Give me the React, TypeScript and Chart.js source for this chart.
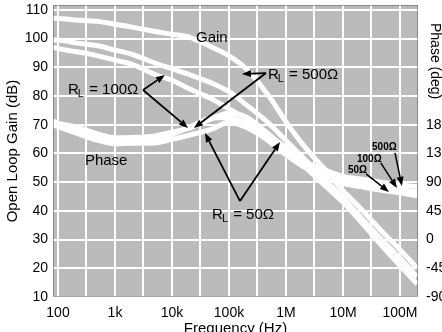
import React, { useEffect, useRef } from 'react';
import { Chart, registerables } from 'chart.js';

Chart.register(...registerables);

// ---------- data ----------
const FREQ_HZ = [80, 100, 200, 500, 1e3, 2e3, 5e3, 1e4, 2e4, 5e4, 1e5, 2e5, 5e5, 1e6, 2e6, 5e6, 1e7, 2e7, 5e7, 1e8, 2e8];

const GAIN_500 = [107, 107, 106.5, 106, 105, 104, 102.5, 101.5, 100.5, 97, 94, 89.5, 80, 71, 63, 54, 47, 41, 32.5, 26.5, 20];
const GAIN_100 = [99.5, 99.5, 98.5, 97.5, 96, 94.5, 91.5, 89.5, 87.5, 84.5, 81.5, 77, 70.5, 64.5, 58.5, 50.5, 44.5, 38, 29.5, 23.5, 17];
const GAIN_50 = [97, 96.5, 95.5, 94, 92.5, 91, 87.5, 85.5, 82.5, 79, 75.5, 72, 66, 62, 56, 48.5, 43, 36.5, 27.5, 21, 14.5];

const PHASE_500 = [186, 182.5, 177, 165.5, 159.5, 160, 162.5, 168.5, 174.5, 189.5, 198.5, 192, 165, 142.5, 123, 108.5, 99, 95, 89.5, 85.5, 83];
const PHASE_100 = [183, 180.5, 171.5, 160, 154.5, 155.5, 156.5, 165, 176, 190.5, 191.5, 181.5, 154.5, 133, 118, 100, 92.5, 88, 82.5, 78, 75];
const PHASE_50 = [180, 177, 167.5, 155.5, 150, 151, 151.5, 157, 163.5, 173, 184, 176, 154.5, 133, 114.5, 99, 88, 83, 77, 73.5, 68.5];

// axis ranges / ticks
const X_MIN = 81.7;
const X_MAX = 2.07e8;
const X_GRID = [1e2, 316.2, 1e3, 3162, 1e4, 31620, 1e5, 316200, 1e6, 3162000, 1e7, 31620000, 1e8];
const X_TICK_LABELS = ['100', '1k', '10k', '100k', '1M', '10M', '100M'];

const GAIN_MIN = 10;
const GAIN_MAX = 111.7;
const GAIN_TICKS = [10, 20, 30, 40, 50, 60, 70, 80, 90, 100, 110];

const PHASE_MIN = -90;
const PHASE_PER_DB = 4.5; // 45 deg per 10 dB grid division
const PHASE_TICKS = [-90, -45, 0, 45, 90, 135, 180];

// annotation anchors in data units (frequency Hz, gain dB)
const LBL_GAIN = { f: 50000, db: 100.2 };
const LBL_PHASE = { f: 700, db: 57.4 };
const RL100 = { text: { f: 150, db: 82.1 }, vertex: { f: 3100, db: 82.1 }, tips: [{ f: 7500, db: 87.3 }, { f: 19100, db: 68.9 }] };
const RL500 = { text: { f: 483000, db: 87.3 }, vertex: { f: 446000, db: 88 }, tips: [{ f: 169000, db: 87.7 }, { f: 24300, db: 68.9 }] };
const RL50 = { text: { f: 169000, db: 38.6 }, vertex: { f: 156000, db: 43.4 }, tips: [{ f: 37900, db: 67.1 }, { f: 785000, db: 64 }] };
const SMALL_LABELS = [
  { text: '500Ω', at: { f: 32.3e6, db: 62.3 }, from: { f: 81.7e6, db: 60.2 }, to: { f: 108e6, db: 48.7 } },
  { text: '100Ω', at: { f: 17.6e6, db: 58.1 }, from: { f: 46e6, db: 56.7 }, to: { f: 88.5e6, db: 48 } },
  { text: '50Ω', at: { f: 12.2e6, db: 54.2 }, from: { f: 25.4e6, db: 52.9 }, to: { f: 64e6, db: 46.6 } },
];

// ---------- styles ----------
const FONT = '"Liberation Sans", Arial, Helvetica, sans-serif';
const CANVAS_W = 460;
const CANVAS_H = 340;
const PLOT_BG = '#bbbbbb';

function arrow(ctx: CanvasRenderingContext2D, x1: number, y1: number, x2: number, y2: number) {
  const ang = Math.atan2(y2 - y1, x2 - x1);
  const hl = 9;
  const hw = 3.5;
  const bx = x2 - hl * Math.cos(ang);
  const by = y2 - hl * Math.sin(ang);
  ctx.beginPath();
  ctx.moveTo(x1, y1);
  ctx.lineTo(bx, by);
  ctx.stroke();
  ctx.beginPath();
  ctx.moveTo(x2, y2);
  ctx.lineTo(bx + hw * Math.sin(ang), by - hw * Math.cos(ang));
  ctx.lineTo(bx - hw * Math.sin(ang), by + hw * Math.cos(ang));
  ctx.closePath();
  ctx.fill();
}

function drawRL(ctx: CanvasRenderingContext2D, x: number, y: number, value: string, size: number) {
  ctx.textAlign = 'left';
  ctx.textBaseline = 'middle';
  ctx.font = `${size}px ${FONT}`;
  ctx.fillText('R', x, y);
  let cx = x + ctx.measureText('R').width - 1;
  ctx.font = `${Math.round(size * 0.7)}px ${FONT}`;
  ctx.fillText('L', cx, y + size * 0.25);
  cx += ctx.measureText('L').width + 1;
  ctx.font = `${size}px ${FONT}`;
  ctx.fillText(' = ' + value, cx, y);
}

const bgPlugin = {
  id: 'plotBg',
  beforeDraw(chart: any) {
    const { ctx, chartArea: a } = chart;
    ctx.save();
    ctx.fillStyle = PLOT_BG;
    ctx.fillRect(a.left, a.top, a.right - a.left, a.bottom - a.top);
    ctx.restore();
  },
};

const annotPlugin = {
  id: 'annot',
  afterDatasetsDraw(chart: any) {
    const { ctx, chartArea: a } = chart;
    const xs = chart.scales.x;
    const ys = chart.scales.y;
    const P = (p: { f: number; db: number }) => [xs.getPixelForValue(p.f), ys.getPixelForValue(p.db)];
    ctx.save();
    // plot border (dotted, like the scan)
    ctx.strokeStyle = '#555';
    ctx.lineWidth = 1;
    ctx.setLineDash([1, 1]);
    ctx.strokeRect(a.left + 0.5, a.top + 0.5, a.right - a.left - 1, a.bottom - a.top - 1);
    ctx.setLineDash([]);

    ctx.fillStyle = '#000';
    ctx.strokeStyle = '#000';
    ctx.lineWidth = 1.8;

    ctx.font = `15px ${FONT}`;
    ctx.textAlign = 'center';
    ctx.textBaseline = 'middle';
    let [gx, gy] = P(LBL_GAIN);
    ctx.fillText('Gain', gx, gy);
    [gx, gy] = P(LBL_PHASE);
    ctx.fillText('Phase', gx, gy);

    for (const [rl, val] of [[RL100, '100Ω'], [RL500, '500Ω']] as const) {
      const [tx, ty] = P(rl.text);
      drawRL(ctx, tx, ty, val, 15);
      const [vx, vy] = P(rl.vertex);
      for (const t of rl.tips) {
        const [px, py] = P(t);
        arrow(ctx, vx, vy, px, py);
      }
    }
    {
      const [tx, ty] = P(RL50.text);
      ctx.font = `15px ${FONT}`;
      const w = ctx.measureText('R = 50Ω').width + 4;
      drawRL(ctx, tx - w / 2, ty, '50Ω', 15);
      const [vx, vy] = P(RL50.vertex);
      for (const t of RL50.tips) {
        const [px, py] = P(t);
        arrow(ctx, vx, vy, px, py);
      }
    }
    ctx.lineWidth = 1.5;
    for (const s of SMALL_LABELS) {
      const [tx, ty] = P(s.at);
      ctx.font = `bold 10px ${FONT}`;
      ctx.textAlign = 'left';
      ctx.textBaseline = 'middle';
      ctx.fillText(s.text, tx, ty);
      const [x1, y1] = P(s.from);
      const [x2, y2] = P(s.to);
      arrow(ctx, x1, y1, x2, y2);
    }
    ctx.restore();
  },
  afterDraw(chart: any) {
    const { ctx, chartArea: a } = chart;
    ctx.save();
    ctx.fillStyle = '#000';
    ctx.font = `14px ${FONT}`;
    ctx.textAlign = 'left';
    ctx.textBaseline = 'alphabetic';
    ctx.translate(a.right + 13, a.top + 18);
    ctx.rotate(Math.PI / 2);
    ctx.fillText('Phase (deg)', 0, 0);
    ctx.restore();
  },
};

function series(values: number[], axis: string) {
  return {
    data: FREQ_HZ.map((f, i) => ({ x: f, y: values[i] })),
    yAxisID: axis,
    borderColor: '#ffffff',
    borderWidth: 5,
    pointRadius: 0,
    fill: false,
    cubicInterpolationMode: 'monotone' as const,
  };
}

function noPad(s: any) {
  s.paddingTop = 0;
  s.paddingBottom = 0;
  s.paddingLeft = 0;
  s.paddingRight = 0;
}

export default function App() {
  const ref = useRef<HTMLCanvasElement>(null);
  useEffect(() => {
    const tickFont = { family: FONT, size: 14 };
    const chart = new Chart(ref.current as HTMLCanvasElement, {
      type: 'line',
      data: {
        datasets: [
          series(GAIN_500, 'y'),
          series(GAIN_100, 'y'),
          series(GAIN_50, 'y'),
          series(PHASE_500, 'y2'),
          series(PHASE_100, 'y2'),
          series(PHASE_50, 'y2'),
        ],
      },
      options: {
        animation: false,
        responsive: false,
        devicePixelRatio: 1,
        layout: { padding: { top: 5, left: 0, right: 0, bottom: 0 } },
        plugins: { legend: { display: false }, tooltip: { enabled: false } },
        scales: {
          x: {
            type: 'logarithmic',
            min: X_MIN,
            max: X_MAX,
            afterBuildTicks: (s: any) => {
              s.ticks = X_GRID.map((v) => ({ value: v }));
            },
            afterFit: (s: any) => {
              s.height = CANVAS_H - 297;
              noPad(s);
            },
            grid: { color: '#ffffff', lineWidth: 2, drawTicks: false },
            border: { display: false },
            ticks: {
              autoSkip: false,
              maxRotation: 0,
              minRotation: 0,
              padding: 8,
              color: '#000',
              font: tickFont,
              callback: (_v: any, i: number) => (i % 2 === 0 ? X_TICK_LABELS[i / 2] : ''),
            },
            title: {
              display: true,
              text: 'Frequency (Hz)',
              color: '#000',
              font: { family: FONT, size: 15 },
              padding: { top: 0, bottom: 2 },
            },
          },
          y: {
            type: 'linear',
            position: 'left',
            min: GAIN_MIN,
            max: GAIN_MAX,
            afterBuildTicks: (s: any) => {
              s.ticks = GAIN_TICKS.map((v) => ({ value: v }));
            },
            afterFit: (s: any) => {
              s.width = 53;
              noPad(s);
            },
            grid: { color: '#ffffff', lineWidth: 2, drawTicks: false },
            border: { display: false },
            ticks: { padding: 5, color: '#000', font: tickFont },
            title: {
              display: true,
              text: 'Open Loop Gain (dB)',
              color: '#000',
              font: { family: FONT, size: 15 },
              padding: { top: 4, bottom: 0 },
            },
          },
          y2: {
            type: 'linear',
            position: 'right',
            min: PHASE_MIN,
            max: PHASE_MIN + (GAIN_MAX - GAIN_MIN) * PHASE_PER_DB,
            afterBuildTicks: (s: any) => {
              s.ticks = PHASE_TICKS.map((v) => ({ value: v }));
            },
            afterFit: (s: any) => {
              s.width = CANVAS_W - 418;
              noPad(s);
            },
            grid: { display: false, drawTicks: false },
            border: { display: false },
            ticks: { padding: 8, color: '#000', font: tickFont },
          },
        },
      },
      plugins: [bgPlugin, annotPlugin],
    } as any);
    return () => chart.destroy();
  }, []);

  return (
    <div
      style={{
        position: 'fixed',
        left: 0,
        top: 0,
        width: 442,
        height: 332,
        overflow: 'hidden',
        background: '#ffffff',
      }}
    >
      <canvas
        ref={ref}
        width={CANVAS_W}
        height={CANVAS_H}
        style={{ display: 'block', width: CANVAS_W, height: CANVAS_H }}
      />
    </div>
  );
}
